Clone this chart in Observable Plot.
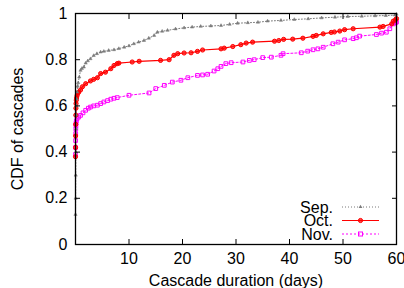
<!DOCTYPE html>
<html>
<head>
<meta charset="utf-8">
<script src="https://cdn.jsdelivr.net/npm/d3@7"></script>
<script src="https://cdn.jsdelivr.net/npm/@observablehq/plot@0.6"></script>
<style>
  html, body { margin: 0; padding: 0; background: #fff; }
  #chart { width: 404px; height: 288px; }
</style>
</head>
<body>
<div id="chart"></div>
<script>
// ---- data ----
const seriesNames = ["Sep.", "Oct.", "Nov."];
const seriesColors = ["#7a7a7a", "#ff0000", "#ff00ff"];

const sepDays = [0, 0.02, 0.04, 0.06, 0.08, 0.1, 0.15, 0.2, 0.3, 0.4, 0.5, 0.7, 0.94, 1.2, 1.56, 1.9, 2.3, 2.8, 3.4, 4.0, 4.7, 5.3, 6.2, 7.2, 8.1, 9.1, 10.0, 10.9, 11.8, 12.8, 13.7, 14.7, 15.3, 16.2, 17.2, 18.7, 20.3, 21.8, 23.4, 25.3, 27.2, 28.8, 30.3, 32.2, 34.1, 35.9, 38.4, 40.9, 43.5, 46.0, 48.5, 50.9, 53.5, 56.0, 58.0, 59.7, 60];
const sepCdf  = [0.13, 0.2, 0.3, 0.4, 0.5, 0.56, 0.6, 0.63, 0.66, 0.685, 0.70, 0.725, 0.754, 0.762, 0.768, 0.785, 0.795, 0.804, 0.818, 0.826, 0.833, 0.836, 0.840, 0.843, 0.848, 0.854, 0.860, 0.869, 0.876, 0.883, 0.893, 0.905, 0.919, 0.923, 0.927, 0.933, 0.938, 0.941, 0.944, 0.946, 0.948, 0.953, 0.958, 0.960, 0.962, 0.967, 0.970, 0.974, 0.977, 0.981, 0.984, 0.987, 0.988, 0.990, 0.991, 0.993, 0.997];

const octDays = [0, 0.01, 0.02, 0.04, 0.06, 0.08, 0.1, 0.15, 0.2, 0.3, 0.45, 0.6, 0.94, 1.3, 1.9, 2.8, 3.4, 4.1, 4.7, 5.6, 6.6, 7.2, 7.8, 8.1, 10.6, 11.9, 15.9, 17.5, 18.4, 19.1, 20.3, 21.6, 22.8, 23.75, 27.2, 27.8, 29.4, 30.9, 31.9, 33.1, 37.2, 38.0, 38.9, 40.6, 42.5, 44.4, 45.0, 46.3, 47.8, 48.4, 49.4, 50.3, 51.9, 56.9, 57.5, 59.1, 59.4, 59.8, 60];
const octCdf  = [0.38, 0.42, 0.47, 0.52, 0.56, 0.59, 0.61, 0.625, 0.635, 0.645, 0.655, 0.66, 0.669, 0.683, 0.696, 0.708, 0.715, 0.722, 0.74, 0.746, 0.761, 0.775, 0.783, 0.785, 0.790, 0.793, 0.797, 0.80, 0.819, 0.826, 0.829, 0.830, 0.836, 0.842, 0.847, 0.850, 0.857, 0.865, 0.872, 0.876, 0.880, 0.883, 0.888, 0.889, 0.893, 0.901, 0.905, 0.912, 0.918, 0.920, 0.924, 0.930, 0.934, 0.941, 0.944, 0.955, 0.967, 0.972, 0.978];

const novDays = [0, 0.01, 0.02, 0.04, 0.06, 0.08, 0.1, 0.15, 0.3, 0.6, 0.94, 1.4, 1.9, 2.4, 2.8, 3.4, 4.1, 4.7, 5.3, 6.0, 6.6, 7.2, 7.8, 10.0, 13.75, 15.0, 16.6, 18.1, 19.7, 21.0, 22.8, 23.75, 24.7, 25.9, 26.6, 27.2, 28.1, 29.1, 31.3, 32.5, 33.4, 35.0, 36.6, 38.4, 38.8, 42.2, 43.4, 44.4, 45.3, 46.3, 48.1, 49.1, 50.3, 51.9, 52.5, 53.1, 56.25, 57.2, 58.1, 58.75, 59.4, 59.8, 60];
const novCdf  = [0.39, 0.42, 0.45, 0.48, 0.50, 0.515, 0.525, 0.535, 0.545, 0.552, 0.559, 0.570, 0.581, 0.590, 0.595, 0.600, 0.603, 0.610, 0.617, 0.623, 0.629, 0.633, 0.636, 0.646, 0.656, 0.675, 0.689, 0.703, 0.711, 0.722, 0.732, 0.734, 0.737, 0.751, 0.761, 0.771, 0.783, 0.787, 0.790, 0.797, 0.80, 0.809, 0.811, 0.819, 0.826, 0.830, 0.837, 0.843, 0.847, 0.854, 0.869, 0.876, 0.886, 0.891, 0.895, 0.902, 0.909, 0.915, 0.919, 0.934, 0.955, 0.960, 0.963];

const xTicks = [10, 20, 30, 40, 50, 60];
const yTicks = [0, 0.2, 0.4, 0.6, 0.8, 1];
const xLabel = "Cascade duration (days)";
const yLabel = "CDF of cascades";

// ---- build table ----
const toRows = (name, xs, ys) => xs.map((d, i) => ({series: name, day: d, cdf: ys[i]}));
const sep = toRows("Sep.", sepDays, sepCdf);
const oct = toRows("Oct.", octDays, octCdf);
const nov = toRows("Nov.", novDays, novCdf);

const FONT = "'Liberation Sans', Arial, Helvetica, sans-serif";

const plot = Plot.plot({
  width: 404,
  height: 288,
  marginLeft: 75,
  marginRight: 8,
  marginTop: 13,
  marginBottom: 44,
  style: {fontFamily: FONT, fontSize: "16px", color: "#000", background: "#fff"},
  x: {domain: [0, 60]},
  y: {domain: [0, 1]},
  marks: [
    // lines
    Plot.line(nov, {x: "day", y: "cdf", stroke: seriesColors[2], strokeWidth: 1, strokeDasharray: "2,2"}),
    Plot.line(oct, {x: "day", y: "cdf", stroke: seriesColors[1], strokeWidth: 1.2}),
    Plot.line(sep, {x: "day", y: "cdf", stroke: seriesColors[0], strokeWidth: 1, strokeDasharray: "1,2"}),
    // markers
    Plot.dot(nov, {x: "day", y: "cdf", symbol: "square", r: 2.1, stroke: seriesColors[2], fill: "none", strokeWidth: 1}),
    Plot.dot(oct, {x: "day", y: "cdf", symbol: "circle", r: 2.1, stroke: seriesColors[1], fill: seriesColors[1], fillOpacity: 0.7, strokeWidth: 1}),
    Plot.dot(sep, {x: "day", y: "cdf", symbol: "triangle", r: 1.2, fill: seriesColors[0], stroke: seriesColors[0], strokeWidth: 0.5}),
    // inward ticks on all four sides
    Plot.axisX(xTicks, {anchor: "bottom", tickSize: -5, tickFormat: () => "", label: null, strokeWidth: 1}),
    Plot.axisX(xTicks, {anchor: "top", tickSize: -5, tickFormat: () => "", label: null, strokeWidth: 1}),
    Plot.axisY(yTicks, {anchor: "left", tickSize: -5, tickFormat: () => "", label: null, strokeWidth: 1}),
    Plot.axisY(yTicks, {anchor: "right", tickSize: -5, tickFormat: () => "", label: null, strokeWidth: 1}),
    // tick labels + axis titles
    Plot.axisX(xTicks, {anchor: "bottom", tickSize: 0, tickPadding: 8, tickFormat: d => String(d),
      label: xLabel, labelAnchor: "center", labelOffset: 41, labelArrow: "none"}),
    Plot.axisY(yTicks, {anchor: "left", tickSize: 0, tickPadding: 8, tickFormat: d => String(d),
      label: yLabel, labelAnchor: "center", labelOffset: 64, labelArrow: "none"}),
    Plot.frame({stroke: "#000", strokeWidth: 1.3})
  ]
});

document.getElementById("chart").appendChild(plot);

// ---- legend (inside plot, bottom right) ----
const svg = d3.select(plot);
const legendRows = [
  {name: seriesNames[0], color: seriesColors[0], dash: "1,2", sym: "triangle", y: 207},
  {name: seriesNames[1], color: seriesColors[1], dash: null, sym: "circle", y: 220.5},
  {name: seriesNames[2], color: seriesColors[2], dash: "2,2", sym: "square", y: 234}
];
const lg = svg.append("g").attr("font-family", FONT).attr("font-size", 16);
legendRows.forEach(r => {
  lg.append("text").attr("x", 333).attr("y", r.y).attr("text-anchor", "end")
    .attr("dy", "0.35em").attr("fill", "#000").text(r.name);
  lg.append("line").attr("x1", 342).attr("x2", 379).attr("y1", r.y).attr("y2", r.y)
    .attr("stroke", r.color).attr("stroke-width", r.sym === "circle" ? 1.2 : 1)
    .attr("stroke-dasharray", r.dash);
  const mx = 360.5;
  if (r.sym === "circle") {
    lg.append("circle").attr("cx", mx).attr("cy", r.y).attr("r", 2.1)
      .attr("fill", r.color).attr("fill-opacity", 0.7).attr("stroke", r.color);
  } else if (r.sym === "square") {
    lg.append("rect").attr("x", mx - 2).attr("y", r.y - 2).attr("width", 4).attr("height", 4)
      .attr("fill", "none").attr("stroke", r.color);
  } else {
    lg.append("path").attr("d", d3.symbol(d3.symbolTriangle, 6)()).attr("transform", `translate(${mx},${r.y})`)
      .attr("fill", r.color);
  }
});
</script>
</body>
</html>
